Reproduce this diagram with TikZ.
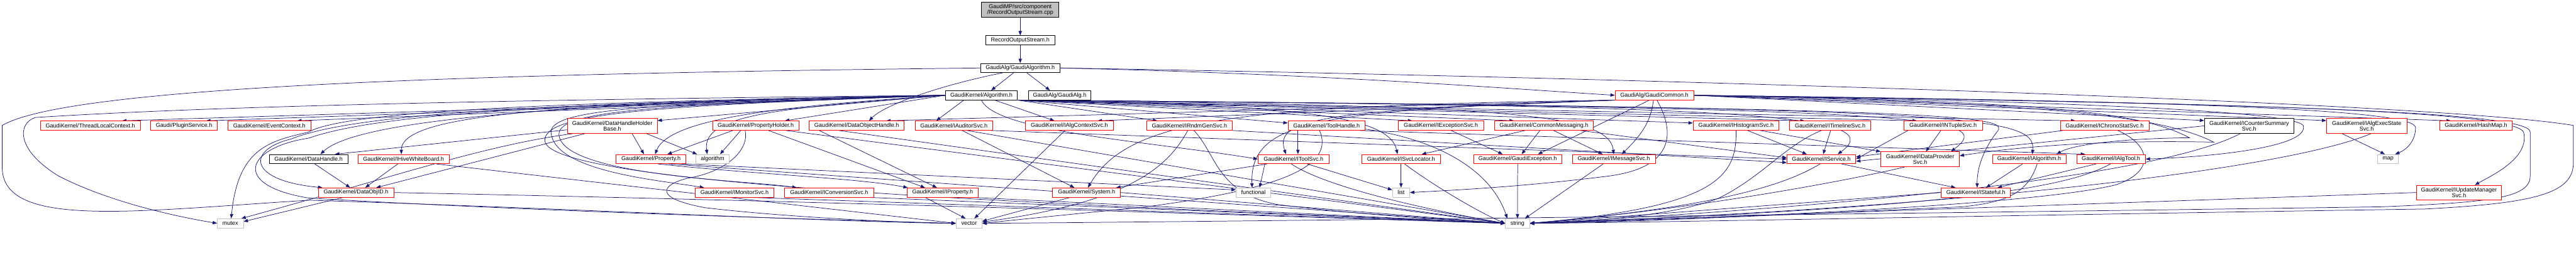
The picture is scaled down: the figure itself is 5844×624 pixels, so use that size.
\documentclass[tikz,border=0pt]{standalone}
\usepackage{fontspec}
\newfontfamily\dxsans{Liberation Sans}
\usetikzlibrary{arrows.meta,calc}
\definecolor{dxblue}{HTML}{191970}
\definecolor{dxred}{HTML}{FF0000}
\definecolor{dxgray}{HTML}{BFBFBF}
\pgfdeclarelayer{bg}
\pgfsetlayers{bg,main}
\newcommand\dxfont{\dxsans\fontsize{3.68pt}{3.7pt}\selectfont}
\begin{document}
\begin{tikzpicture}[x=0.01cm,y=-0.01cm,
 nb/.style={draw=black,fill=white,line width=0.3pt,inner sep=0pt,minimum height=0.21cm,align=center,font=\dxfont},
 nr/.style={nb,draw=dxred},
 ng/.style={nb,draw=dxgray},
 ntop/.style={nb,fill=dxgray},
 two/.style={minimum height=0.34cm},
 e/.style={draw=dxblue,line width=0.3pt,-{Triangle[length=0.1cm,width=0.075cm]}},
]
\useasboundingbox (0,0) rectangle (5844,624);
% rows 0-3
\node[ntop,two,minimum width=1.75cm] (top) at (2314.5,22) {GaudiMP/src/component\\/RecordOutputStream.cpp};
\node[nb,minimum width=1.57cm] (ros) at (2314.5,91.5) {RecordOutputStream.h};
\node[nb,minimum width=1.79cm] (galg) at (2314.5,154.5) {GaudiAlg/GaudiAlgorithm.h};
\node[nb,minimum width=1.63cm] (algo) at (2226.5,216.5) {GaudiKernel/Algorithm.h};
\node[nb,minimum width=1.42cm] (gaudialg) at (2404,216.5) {GaudiAlg/GaudiAlg.h};
\node[nr,minimum width=1.78cm] (gcommon) at (3753,216.5) {GaudiAlg/GaudiCommon.h};
% row 4
\node[nr,minimum width=2.26cm] (tlc) at (205,285.5) {GaudiKernel/ThreadLocalContext.h};
\node[nr,minimum width=1.51cm] (plug) at (417.5,285.5) {Gaudi/PluginService.h};
\node[nr,minimum width=1.88cm] (evc) at (611,285.5) {GaudiKernel/EventContext.h};
\node[nr,two,minimum width=2.04cm] (dhhb) at (1389,286) {GaudiKernel/DataHandleHolder\\Base.h};
\node[nr,minimum width=1.95cm] (ph) at (1714.5,285.5) {GaudiKernel/PropertyHolder.h};
\node[nr,minimum width=2.15cm] (doh) at (1943.5,285.5) {GaudiKernel/DataObjectHandle.h};
\node[nr,minimum width=1.76cm] (iaud) at (2164,285.5) {GaudiKernel/IAuditorSvc.h};
\node[nr,minimum width=2.00cm] (iacs) at (2426,285.5) {GaudiKernel/IAlgContextSvc.h};
\node[nr,minimum width=1.95cm] (irnd) at (2698.5,285.5) {GaudiKernel/IRndmGenSvc.h};
\node[nr,minimum width=1.75cm] (th) at (3009.5,285.5) {GaudiKernel/ToolHandle.h};
\node[nr,minimum width=1.94cm] (iexc) at (3269,285.5) {GaudiKernel/IExceptionSvc.h};
\node[nr,minimum width=2.25cm] (cm) at (3502.5,285.5) {GaudiKernel/CommonMessaging.h};
\node[nr,minimum width=1.95cm] (ihist) at (3938.5,285.5) {GaudiKernel/IHistogramSvc.h};
\node[nr,minimum width=1.84cm] (itl) at (4152,285.5) {GaudiKernel/ITimelineSvc.h};
\node[nr,minimum width=1.78cm] (intup) at (4408,285.5) {GaudiKernel/INTupleSvc.h};
\node[nr,minimum width=2.01cm] (ichr) at (4774.5,285.5) {GaudiKernel/IChronoStatSvc.h};
\node[nb,two,minimum width=2.03cm] (icsum) at (5102.5,286) {GaudiKernel/ICounterSummary\\Svc.h};
\node[nr,two,minimum width=1.82cm] (iaes) at (5369,286) {GaudiKernel/IAlgExecState\\Svc.h};
\node[nr,minimum width=1.64cm] (hash) at (5617,285.5) {GaudiKernel/HashMap.h};
% row 5
\node[nb,minimum width=1.78cm] (dh) at (700,361.5) {GaudiKernel/DataHandle.h};
\node[nr,minimum width=2.07cm] (ihwb) at (915.5,361.5) {GaudiKernel/IHiveWhiteBoard.h};
\node[nr,minimum width=1.58cm] (prop) at (1477,361.5) {GaudiKernel/Property.h};
\node[ng,minimum width=0.75cm] (algm) at (1616.5,361.5) {algorithm};
\node[nr,minimum width=1.61cm] (its) at (2934.5,361.5) {GaudiKernel/IToolSvc.h};
\node[nr,minimum width=1.79cm] (isl) at (3178.5,361.5) {GaudiKernel/ISvcLocator.h};
\node[nr,minimum width=2.00cm] (gex) at (3443,361.5) {GaudiKernel/GaudiException.h};
\node[nr,minimum width=1.88cm] (ims) at (3661,361.5) {GaudiKernel/IMessageSvc.h};
\node[nr,minimum width=1.56cm] (isvc) at (4132,361.5) {GaudiKernel/IService.h};
\node[nr,two,minimum width=1.78cm] (idp) at (4356,362) {GaudiKernel/IDataProvider\\Svc.h};
\node[nr,minimum width=1.67cm] (ialg) at (4603.5,361.5) {GaudiKernel/IAlgorithm.h};
\node[nr,minimum width=1.56cm] (iat) at (4789,361.5) {GaudiKernel/IAlgTool.h};
\node[ng,minimum width=0.47cm] (map) at (5417.5,361.5) {map};
% row 6
\node[nr,minimum width=1.71cm] (doid) at (807.5,437.5) {GaudiKernel/DataObjID.h};
\node[nr,minimum width=1.79cm] (imon) at (1666.5,437.5) {GaudiKernel/IMonitorSvc.h};
\node[nr,minimum width=2.02cm] (iconv) at (1881,437.5) {GaudiKernel/IConversionSvc.h};
\node[nr,minimum width=1.61cm] (iprop) at (2138.5,437.5) {GaudiKernel/IProperty.h};
\node[nr,minimum width=1.54cm] (sys) at (2465,437.5) {GaudiKernel/System.h};
\node[ng,minimum width=0.79cm] (func) at (2843.5,437.5) {functional};
\node[ng,minimum width=0.39cm] (list) at (3178.5,437.5) {list};
\node[nr,minimum width=1.57cm] (ista) at (4482.5,437.5) {GaudiKernel/IStateful.h};
\node[nr,minimum height=0.33cm,minimum width=1.93cm] (iupd) at (5578.5,437.5) {GaudiKernel/IUpdateManager\\Svc.h};
% row 7
\node[ng,minimum width=0.59cm] (mutex) at (522.5,507.5) {mutex};
\node[ng,minimum width=0.59cm] (vector) at (2198.5,507.5) {vector};
\node[ng,minimum width=0.55cm] (string) at (3442.5,507.5) {string};

\begin{pgfonlayer}{bg}
% top chain
\draw[e] (top) -- (ros);
\draw[e] (ros) -- (galg);
\draw[e] ($(galg.south)+(-15,0)$) -- ($(algo.north)+(22,0)$);
\draw[e] ($(galg.south)+(15,0)$) -- ($(gaudialg.north)+(-22,0)$);
\draw[e] ($(galg.south)+(-40,0)$) .. controls (2150,190) and (2010,235) .. ($(doh.north)+(28,0)$);
\draw[e] (galg.east) .. controls (3000,168) and (3400,200) .. (gcommon.west);
\draw[e] (galg.west) .. controls (1000,168) and (150,200) .. (5,285) -- (5,380) .. controls (5,520) and (300,480) .. (700,455) .. controls (1200,470) and (1900,505) .. (vector.west);
\draw[e] (galg.east) .. controls (3500,172) and (5500,228) .. (5838,285) -- (5838,370) .. controls (5838,440) and (5750,462) .. (5500,475) .. controls (4500,490) and (3800,505) .. (string.east);
% Algorithm.h -> left row 4
\draw[e] (algo.west) -- ($(tlc.north)+(72,0)$);
\draw[e] (algo.west) -- ($(plug.north)+(50,0)$);
\draw[e] (algo.west) -- ($(evc.north)+(63,0)$);
\draw[e] (algo.west) -- ($(dhhb.east)+(0,-12)$);
\draw[e] (algo.west) -- ($(ph.north)+(66,0)$);
\draw[e] ($(algo.south)+(-40,0)$) -- ($(iaud.north)+(-40,0)$);
\draw[e] ($(algo.south)+(30,0)$) -- ($(iacs.north)+(-34,0)$);
% Algorithm.h -> right row 4
\draw[e] (algo.south east) -- ($(irnd.north)+(-73,0)$);
\draw[e] (algo.south east) -- ($(th.west)+(0,-6)$);
\draw[e] (algo.south east) -- ($(iexc.north)+(-65,0)$);
\draw[e] (algo.south east) -- ($(cm.north)+(-68,0)$);
\draw[e] (algo.south east) -- ($(ihist.west)+(0,-6)$);
\draw[e] (algo.south east) -- ($(itl.north)+(-58,0)$);
\draw[e] (algo.south east) -- ($(intup.north)+(-59,0)$);
\draw[e] (algo.south east) -- ($(ichr.north)+(-66,0)$);
% Algorithm.h -> lower rows, left
\draw[e] (algo.west) .. controls (1400,232) and (820,262) .. ($(dh.north)+(27,0)$);
\draw[e] (algo.west) .. controls (1300,235) and (910,255) .. ($(ihwb.north)+(-5,0)$);
\draw[e] (algo.west) .. controls (1800,240) and (1520,265) .. ($(prop.north)+(9,0)$);
\draw[e] (algo.west) .. controls (1800,245) and (1590,255) .. ($(algm.north)+(-12,0)$);
\draw[e] (algo.west) .. controls (1500,236) and (1250,245) .. (1250,300) .. controls (1255,390) and (1500,410) .. ($(imon.north west)+(21,0)$);
\draw[e] (algo.west) .. controls (1500,238) and (1268,250) .. (1268,305) .. controls (1272,400) and (1700,410) .. ($(iconv.north west)+(28,0)$);
\draw[e] (algo.west) .. controls (1500,240) and (1232,255) .. (1236,320) .. controls (1245,430) and (2600,470) .. (string.west);
\draw[e] (algo.west) .. controls (1200,235) and (800,260) .. (660,316) .. controls (560,340) and (560,410) .. ($(doid.north west)+(10,0)$);
\draw[e] (algo.west) .. controls (1200,236) and (850,262) .. (700,314) .. controls (560,335) and (520,420) .. (700,450) .. controls (1200,480) and (1900,500) .. (vector.west);
\draw[e] (algo.west) .. controls (1200,233) and (780,255) .. (700,300) .. controls (620,320) and (540,330) .. ($(mutex.north)+(2,0)$);
\draw[e] (algo.west) .. controls (1200,226) and (500,240) .. (80,267) .. controls (40,280) and (35,340) .. (133,400) .. controls (250,460) and (400,492) .. (mutex.west);
% Algorithm.h -> lower rows, right
\draw[e] (algo.south) .. controls (2260,300) and (2600,320) .. (its.west);
\draw[e] (algo.south east) .. controls (2900,240) and (3150,255) .. ($(isl.north)+(-8,0)$);
\draw[e] (algo.south east) .. controls (3400,240) and (3650,255) .. (ims.north);
\draw[e] (algo.south east) .. controls (3900,240) and (4300,255) .. ($(isvc.north)+(37,0)$);
\draw[e] (algo.south east) .. controls (4400,245) and (4530,265) .. ($(idp.north)+(70,0)$);
\draw[e] (algo.south east) .. controls (4450,245) and (4620,260) .. ($(ialg.north)+(7,0)$);
\draw[e] (algo.south east) .. controls (4500,245) and (4560,265) .. (4530,300) .. controls (4500,340) and (4485,380) .. ($(ista.north)+(3,0)$);
% GaudiCommon.h
\draw[e] ($(gcommon.south)+(-11,0)$) -- ($(gex.north)+(46,0)$);
\draw[e] ($(gcommon.south)+(-2,0)$) .. controls (3745,280) and (3720,310) .. ($(ims.north)+(18,0)$);
\draw[e] ($(gcommon.south)+(6,0)$) .. controls (3800,300) and (3800,380) .. (3650,400) .. controls (3450,425) and (3300,432) .. (list.east);
\draw[e] (gcommon.south west) .. controls (2800,240) and (2560,270) .. ($(sys.north)+(3,0)$);
\draw[e] (gcommon.south west) -- ($(iacs.north)+(64,0)$);
\draw[e] (gcommon.south west) -- ($(doh.north)+(67,0)$);
\draw[e] (gcommon.south west) .. controls (3000,250) and (2890,270) .. ($(its.north)+(-17,0)$);
\draw[e] (gcommon.south west) .. controls (3000,252) and (2835,270) .. ($(func.north)+(-3,0)$);
\draw[e] (gcommon.east) -- ($(icsum.west)+(0,-12)$);
\draw[e] (gcommon.east) -- ($(iaes.west)+(0,-12)$);
\draw[e] (gcommon.east) -- ($(hash.north)+(-57,0)$);
\draw[e] (gcommon.east) .. controls (5000,230) and (5480,250) .. (5480,290) .. controls (5480,320) and (5460,340) .. ($(map.north)+(16,0)$);
\draw[e] (gcommon.east) .. controls (5200,235) and (5700,255) .. (5725,300) .. controls (5740,360) and (5650,400) .. ($(iupd.north)+(36,0)$);
\draw[e] (gcommon.east) .. controls (5200,236) and (5740,255) .. (5740,300) -- (5740,400) .. controls (5740,450) and (5650,460) .. (5400,470) .. controls (4000,490) and (2600,505) .. (vector.east);
\draw[e] (gcommon.east) .. controls (4600,228) and (5200,250) .. (5225,285) .. controls (5240,330) and (5050,355) .. (iat.east);
\draw[e] (gcommon.east) .. controls (4600,232) and (4900,260) .. (5022,323) .. controls (4800,318) and (4600,330) .. ($(idp.east)+(0,-8)$);
\draw[e] (gcommon.east) .. controls (4600,230) and (4850,250) .. (4967,313) .. controls (4800,315) and (4700,330) .. ($(ialg.north)+(62,0)$);
% row 4 sources
\draw[e] ($(dhhb.west)+(0,9)$) -- ($(dh.north)+(60,0)$);
\draw[e] ($(dhhb.south)+(-62,0)$) -- ($(doid.north)+(46,0)$);
\draw[e] ($(dhhb.south)+(-89,0)$) .. controls (1100,330) and (900,400) .. ($(mutex.north east)+(-5,0)$);
\draw[e] ($(dhhb.south)+(45,0)$) -- ($(prop.north)+(-16,0)$);
\draw[e] ($(dhhb.south east)+(-25,0)$) -- ($(algm.north)+(-35,0)$);
\draw[e] ($(ph.south)+(-52,0)$) -- ($(prop.north)+(37,0)$);
\draw[e] ($(ph.south)+(-34,0)$) -- ($(algm.north)+(17,0)$);
\draw[e] ($(ph.south)+(-24,0)$) .. controls (1700,340) and (1650,390) .. (1560,405) .. controls (1500,420) and (1480,450) .. (1600,472) .. controls (1750,490) and (2000,505) .. (vector.west);
\draw[e] ($(ph.south)+(29,0)$) -- ($(iprop.north)+(-40,0)$);
\draw[e] ($(ph.south east)+(-30,0)$) -- (string.west);
\draw[e] ($(doh.south)+(-85,0)$) -- ($(iprop.north)+(-13,0)$);
\draw[e] ($(doh.south)+(-40,0)$) -- (string.west);
\draw[e] ($(iaud.south)+(19,0)$) -- ($(sys.north west)+(50,0)$);
\draw[e] ($(iaud.south east)+(-5,0)$) -- (isvc.west);
\draw[e] ($(iaud.south)+(30,0)$) -- (string.west);
\draw[e] ($(iacs.south)+(-10,0)$) -- ($(vector.north)+(12,0)$);
\draw[e] (irnd.south east) -- ($(isvc.west)+(0,8)$);
\draw[e] ($(irnd.south)+(-4,0)$) .. controls (2650,380) and (2560,460) .. ($(vector.east)+(0,-3)$);
\draw[e] ($(irnd.south)+(10,0)$) .. controls (2760,350) and (2760,440) .. (2900,465) .. controls (3100,490) and (3300,500) .. (string.west);
\draw[e] ($(th.south)+(-65,0)$) -- ($(its.north)+(10,0)$);
\draw[e] ($(th.south east)+(-13,0)$) -- ($(iat.north west)+(20,0)$);
\draw[e] ($(th.south)+(-16,0)$) .. controls (3030,380) and (2900,430) .. (2600,470) .. controls (2400,490) and (2300,500) .. (vector.east);
\draw[e] ($(th.east)+(0,8)$) .. controls (3250,315) and (3380,380) .. ($(string.north west)+(5,0)$);
\draw[e] ($(iexc.south)+(23,0)$) -- ($(gex.north)+(-34,0)$);
\draw[e] ($(cm.south)+(-9,0)$) -- ($(gex.north)+(9,0)$);
\draw[e] ($(cm.south)+(22,0)$) -- ($(ims.north)+(-25,0)$);
\draw[e] ($(cm.south)+(-43,0)$) -- ($(isl.north)+(47,0)$);
\draw[e] ($(cm.south east)+(-30,0)$) -- ($(isvc.west)+(0,-3)$);
\draw[e] ($(ihist.south)+(26,0)$) -- ($(isvc.north)+(-33,0)$);
\draw[e] ($(ihist.south)+(55,0)$) -- (idp.north west);
\draw[e] (ihist.south) .. controls (3940,400) and (3900,470) .. (string.east);
\draw[e] ($(itl.south)+(1,0)$) -- ($(isvc.north)+(4,0)$);
\draw[e] ($(itl.south)+(-20,0)$) .. controls (4050,330) and (4000,400) .. (3900,450) .. controls (3800,490) and (3600,505) .. (string.east);
\draw[e] ($(intup.south)+(-5,0)$) -- ($(idp.north)+(13,0)$);
\draw[e] ($(intup.south west)+(10,0)$) -- (isvc.east);
\draw[e] ($(ichr.south west)+(7,0)$) -- ($(isvc.east)+(0,-5)$);
\draw[e] ($(ichr.south)+(30,0)$) .. controls (4880,330) and (4890,390) .. (4800,420) .. controls (4600,470) and (3800,500) .. (string.east);
\draw[e] (icsum.west) -- ($(isvc.east)+(0,5)$);
\draw[e] ($(icsum.south)+(-20,0)$) .. controls (4900,400) and (4200,470) .. (string.east);
\draw[e] ($(iaes.south)+(-56,0)$) -- ($(map.north)+(-7,0)$);
\draw[e] ($(iaes.south)+(10,0)$) .. controls (5200,380) and (4500,470) .. (string.east);
% row 5 sources
\draw[e] ($(dh.south)+(14,0)$) -- ($(doid.north)+(-13,0)$);
\draw[e] ($(ihwb.south)+(-13,0)$) -- ($(doid.north)+(21,0)$);
\draw[e] ($(ihwb.south east)+(-30,0)$) -- (vector.west);
\draw[e] ($(prop.south)+(16,0)$) .. controls (1700,395) and (1950,405) .. ($(iprop.north west)+(2,0)$);
\draw[e] ($(prop.south east)+(-10,0)$) -- ($(func.west)+(0,-6)$);
\draw[e] ($(prop.south)+(40,0)$) -- (string.west);
\draw[e] ($(its.south)+(31,0)$) -- ($(list.west)+(0,-6)$);
\draw[e] ($(its.south)+(-5,0)$) .. controls (3000,420) and (3200,470) .. (string.west);
\draw[e] ($(its.south west)+(21,0)$) -- ($(sys.north)+(67,0)$);
\draw[e] ($(its.south)+(-65,0)$) -- ($(func.north)+(14,0)$);
\draw[e] (isl.south) -- (list.north);
\draw[e] ($(isl.south)+(8,0)$) .. controls (3250,420) and (3350,480) .. (string.west);
\draw[e] (gex.south) -- (string.north);
\draw[e] ($(ims.south)+(-24,0)$) -- ($(string.north)+(17,0)$);
\draw[e] ($(isvc.south)+(46,0)$) -- ($(ista.north)+(-46,0)$);
\draw[e] ($(isvc.south)+(-3,0)$) .. controls (4050,420) and (3900,470) .. (string.east);
\draw[e] ($(idp.south)+(-35,0)$) .. controls (4150,420) and (3800,480) .. (string.east);
\draw[e] ($(ialg.south)+(-15,0)$) -- ($(ista.north)+(23,0)$);
\draw[e] ($(ialg.south)+(18,0)$) .. controls (4600,440) and (4550,460) .. (4450,470) .. controls (4000,490) and (3700,505) .. (string.east);
\draw[e] ($(iat.south)+(-34,0)$) -- ($(ista.north)+(49,0)$);
\draw[e] ($(iat.south)+(-1,0)$) .. controls (4700,420) and (4500,470) .. (string.east);
% row 6 sources
\draw[e] ($(doid.south)+(-28,0)$) -- ($(mutex.east)+(0,-4)$);
\draw[e] (doid.east) .. controls (2000,460) and (3000,495) .. (string.west);
\draw[e] ($(imon.south)+(33,0)$) -- (string.west);
\draw[e] ($(iconv.south)+(88,0)$) -- (string.west);
\draw[e] ($(iprop.south)+(-40,0)$) -- ($(vector.north)+(-8,0)$);
\draw[e] ($(iprop.south east)+(-15,0)$) -- (string.west);
\draw[e] ($(sys.south)+(-37,0)$) -- ($(vector.east)+(0,-5)$);
\draw[e] (sys.east) -- (string.west);
\draw[e] (ista.west) -- (string.east);
\draw[e] (iupd.west) -- (string.east);
\end{pgfonlayer}
\end{tikzpicture}
\end{document}
